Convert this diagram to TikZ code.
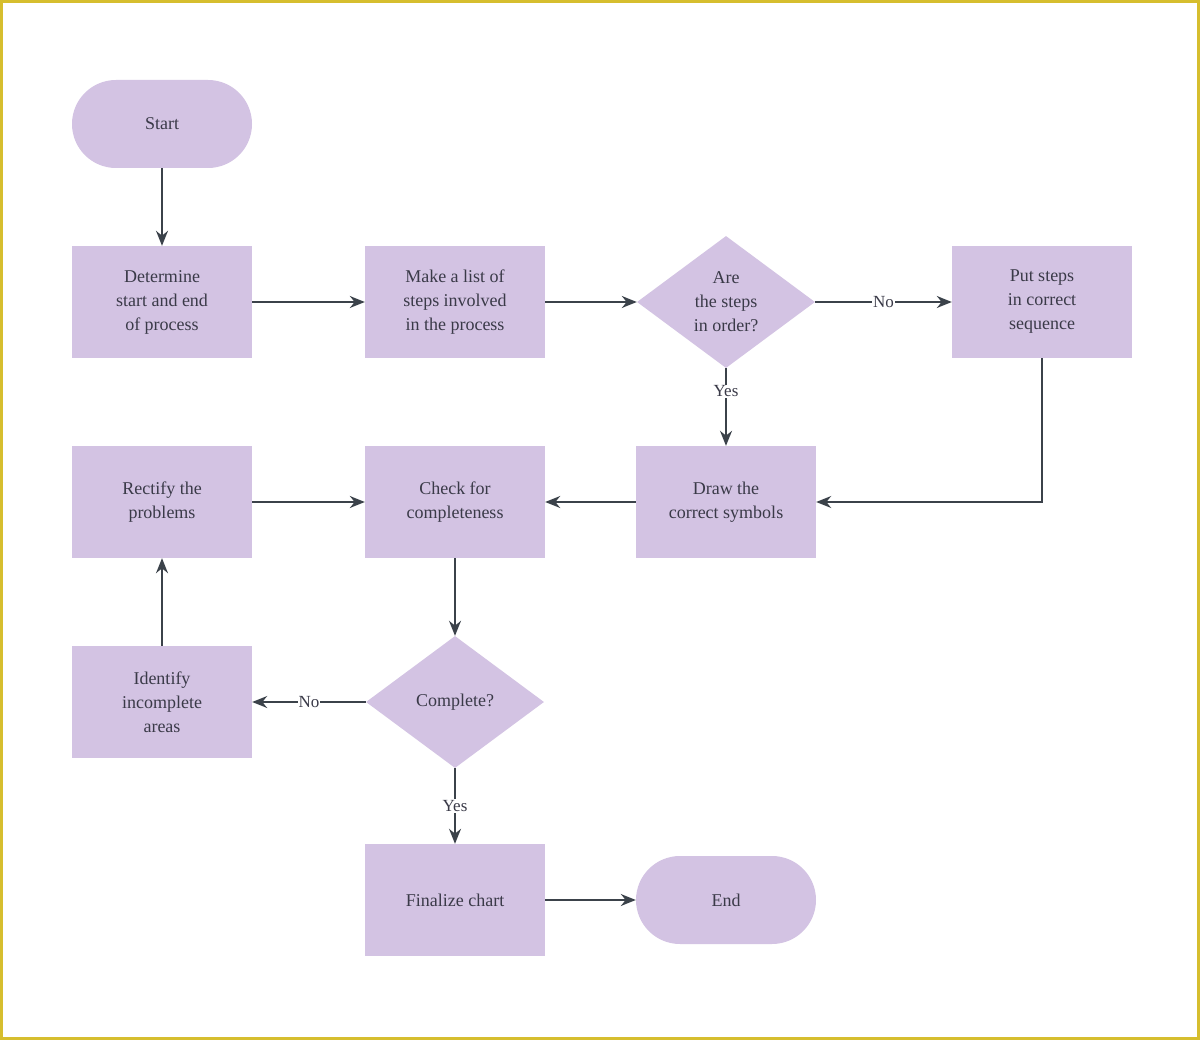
\documentclass[tikz,border=0pt]{standalone}
\usepackage{fontspec}
\setmainfont{Liberation Serif}
\usetikzlibrary{shapes.geometric,arrows.meta}
\definecolor{fillc}{HTML}{D3C3E3}
\definecolor{linec}{HTML}{3B424A}
\definecolor{txt}{HTML}{3A3A48}
\definecolor{frame}{HTML}{D6BE2E}
\begin{document}
\begin{tikzpicture}[x=1pt,y=-1pt,
  base/.style={fill=fillc,draw=none,text=txt,font=\fontsize{18}{24}\selectfont,align=center,inner sep=0pt},
  box/.style={base,rectangle,minimum width=180,minimum height=112},
  term/.style={base,rectangle,rounded corners=44,minimum width=180,minimum height=88},
  dia/.style={base,diamond,aspect=1.35,minimum width=178,minimum height=132},
  arr/.style={draw=linec,line width=1.6pt,-{Stealth[length=15pt,width=12pt]}},
  lab/.style={fill=white,text=txt,font=\fontsize{17}{20}\selectfont,inner sep=1pt}]
\fill[white] (0,0) rectangle (1200,1040);
\draw[frame,line width=3pt] (1.5,1.5) rectangle (1198.5,1038.5);
\node[term] (start) at (162,124) {Start};
\node[box] (det) at (162,302) {Determine\\start and end\\of process};
\node[box] (make) at (455,302) {Make a list of\\steps involved\\in the process};
\node[dia] (are) at (726,302) {Are\\the steps\\in order?};
\node[box] (put) at (1042,302) {Put steps\\in correct\\sequence};
\node[box] (draw) at (726,502) {Draw the\\correct symbols};
\node[box] (check) at (455,502) {Check for\\completeness};
\node[box] (rect) at (162,502) {Rectify the\\problems};
\node[box] (ident) at (162,702) {Identify\\incomplete\\areas};
\node[dia] (comp) at (455,702) {Complete?};
\node[box] (fin) at (455,900) {Finalize chart};
\node[term] (end) at (726,900) {End};
\draw[arr] (start) -- (det);
\draw[arr] (det) -- (make);
\draw[arr] (make) -- (are);
\draw[arr] (are) -- node[lab]{No} (put);
\draw[arr] (are) -- node[lab,pos=0.3]{Yes} (draw);
\draw[arr] (put.south) |- (draw.east);
\draw[arr] (draw) -- (check);
\draw[arr] (rect) -- (check);
\draw[arr] (check) -- (comp);
\draw[arr] (comp) -- node[lab,pos=0.5]{No} (ident);
\draw[arr] (ident) -- (rect);
\draw[arr] (comp) -- node[lab,pos=0.5]{Yes} (fin);
\draw[arr] (fin) -- (end);
\end{tikzpicture}
\end{document}
